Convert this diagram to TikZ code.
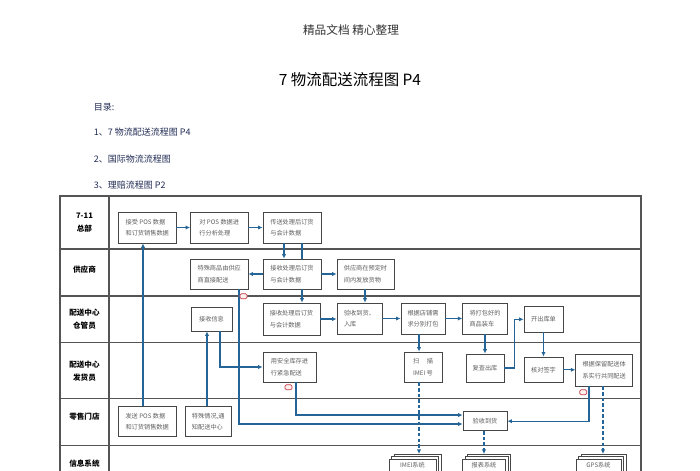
\documentclass[tikz,border=0pt]{standalone}
\usepackage{fontspec}
\setmainfont{Noto Sans CJK SC}
\usetikzlibrary{arrows.meta,shadows}
\definecolor{flow}{RGB}{36,100,150}
\definecolor{boxline}{RGB}{70,70,70}
\definecolor{boxtext}{RGB}{95,95,95}
\definecolor{laneline}{RGB}{85,85,85}
\definecolor{toc}{RGB}{35,45,85}
\definecolor{notered}{RGB}{200,60,70}

\begin{document}
\begin{tikzpicture}[x=0.025cm, y=-0.025cm,
  box/.style={rectangle, draw=boxline, fill=white, line width=0.5pt, inner sep=1pt, align=left, text=boxtext, font=\fontsize{4.4}{8.3}\selectfont},
  boxsize/.style 2 args={minimum width=#1*0.025cm, minimum height=#2*0.025cm},
  docs/.style={box, anchor=north, text height=4pt, text depth=9pt, double copy shadow={shadow xshift=1.8pt, shadow yshift=1.8pt, fill=white, draw=boxline, line width=0.5pt}},
  arrow/.style={-{Latex[length=3.2pt,width=3pt]}, draw=flow, line width=0.9pt},
  dasharrow/.style={arrow, dash pattern=on 2.5pt off 1.5pt},
  flowline/.style={draw=flow, line width=0.9pt},
  lane/.style={draw=laneline, line width=0.8pt},
  lanelabel/.style={font=\fontsize{5.4}{9.2}\selectfont\bfseries, align=center},
  note/.style={rectangle, rounded corners=1pt, draw=notered, fill=red!6, line width=0.5pt, minimum width=5pt, minimum height=3.6pt, inner sep=0pt}
]
  \useasboundingbox[fill=white] (0,0) rectangle (700,470);
  \clip (0,0) rectangle (700,470);

  % Page head
  \node[font=\fontsize{8.3}{10}\selectfont, text=black!80] (header) at (351,30) {精品文档 精心整理};
  \node[font=\fontsize{11}{13}\selectfont] (title) at (350,80) {7 物流配送流程图 P4};
  \node[anchor=west, font=\fontsize{6.4}{8}\selectfont, text=toc] (toc) at (89,107) {目录:};
  \node[anchor=west, font=\fontsize{6.4}{8}\selectfont, text=toc] (toca) at (89,132) {1、7 物流配送流程图 P4};
  \node[anchor=west, font=\fontsize{6.4}{8}\selectfont, text=toc] (tocb) at (89,159) {2、国际物流流程图};
  \node[anchor=west, font=\fontsize{6.4}{8}\selectfont, text=toc] (tocc) at (89,185) {3、理赔流程图 P2};

  % Lanes
  \draw[lane] (60,196) rectangle (641,490);
  \draw[lane] (109,196) -- (109,490);
  \foreach \y in {249,296,342.5,398.5,445.5}
    \draw[lane] (60,\y) -- (641,\y);

  \node[lanelabel] (hq) at (84.5,223) {7-11\\总部};
  \node[lanelabel] (supplier) at (84.5,270) {供应商};
  \node[lanelabel] (keeper) at (84.5,319.5) {配送中心\\仓管员};
  \node[lanelabel] (shipper) at (84.5,371.5) {配送中心\\发货员};
  \node[lanelabel] (store) at (84.5,417) {零售门店};
  \node[lanelabel] (infosys) at (84.5,464) {信息系统};

  % 7-11 总部
  \node[box, boxsize={57.5}{31}] (posdata) at (147.25,227.5) {接受 POS 数据\\和订货销售数据};
  \node[box, boxsize={57.5}{31}] (analyze) at (219.25,227.5) {对 POS 数据进\\行分析处理};
  \node[box, boxsize={58}{31}] (send) at (292,227.5) {传送处理后订货\\与会计数据};

  % 供应商
  \node[box, boxsize={57.5}{30}] (direct) at (219.25,274) {特殊商品由供应\\商直接配送};
  \node[box, boxsize={58}{30}] (recvsup) at (292,274) {接收处理后订货\\与会计数据};
  \node[box, boxsize={57}{30}] (supply) at (365.5,274) {供应商在预定时\\间内发放货物};

  % 配送中心 仓管员
  \node[box, boxsize={41}{24}] (recvinfo) at (211.5,319) {接收信息};
  \node[box, boxsize={57}{32}] (dist2) at (291.5,319) {接收处理后订货\\与会计数据};
  \node[box, boxsize={45}{31}] (inbound) at (359.5,318.5) {验收到货、\\入库};
  \node[box, boxsize={44}{31}] (pack) at (423,318.5) {根据店铺需\\求分别打包};
  \node[box, boxsize={44.6}{31}] (load) at (485,318.5) {将打包好的\\商品装车};
  \node[box, boxsize={39}{25.3}] (issue) at (543.5,319.3) {开出库单};

  % 配送中心 发货员
  \node[box, boxsize={53}{30}] (urgent) at (289.5,367) {用安全库存进\\行紧急配送};
  \node[box, boxsize={38}{30}] (scan) at (423,367) {扫\quad\ 描\\IMEI 号};
  \node[box, boxsize={38}{28}] (recheck) at (485,368) {复查出库};
  \node[box, boxsize={39}{25.7}] (sign) at (543.5,369.8) {核对签字};
  \node[box, boxsize={57}{32}] (joint) at (604.2,370) {根据保留配送体\\系实行共同配送};

  % 零售门店
  \node[box, boxsize={57.7}{30}] (sendpos) at (147.2,421.7) {发送 POS 数据\\和订货销售数据};
  \node[box, boxsize={45.3}{30}] (notify) at (208.3,421.7) {特殊情况,通\\知配送中心};
  \node[box, boxsize={44}{19}] (check) at (485,421.2) {验收到货};

  % 信息系统
  \node[docs, boxsize={47}{24}] (imeisys) at (412.5,459) {IMEI系统};
  \node[docs, boxsize={43}{24}] (report) at (484,459) {报表系统};
  \node[docs, boxsize={45}{24}] (gps) at (598.5,459) {GPS系统};
  \coordinate (imeitop) at ([yshift=3.6pt]imeisys.north);
  \coordinate (reporttop) at ([yshift=3.6pt]report.north);
  \coordinate (gpstop) at ([yshift=3.6pt]gps.north);

  % Head office flow
  \draw[arrow] (posdata) -- (analyze);
  \draw[arrow] (analyze) -- (send);
  \draw[arrow] (send.south -| 284,0) -- (recvsup.north -| 284,0);
  \draw[flowline] (send.south -| 302,0) -- (recvsup.north -| 302,0);
  \draw[arrow] (recvsup.south -| 302,0) -- (dist2.north -| 302,0);

  % Supplier flow
  \draw[arrow] (recvsup) -- (direct);
  \draw[arrow] (recvsup) -- (supply);
  \draw[arrow] (supply.south -| 365,0) -- (inbound.north -| 365,0);

  % Warehouse flow
  \draw[arrow] (dist2.east) -- (dist2.east -| inbound.west);
  \draw[arrow] (inbound) -- (pack);
  \draw[arrow] (pack) -- (load);
  \draw[arrow] (load) -- (recheck);
  \draw[arrow] (pack.south -| 419,0) -- (scan.north -| 419,0);
  \draw[arrow] (recheck.east) -- ++(10,0) |- (issue.west);
  \draw[arrow] (issue) -- (sign);
  \draw[arrow] (sign.east) -- (sign.east -| joint.west);

  % To the store
  \draw[arrow] (joint.south -| 589,0) |- (check.east);
  \draw[arrow] (urgent.south -| 296,0) |- (check.west |- 0,415);
  \draw[arrow] (direct.south -| 239,0) |- (check.west |- 0,424);

  % From the store
  \draw[arrow] (sendpos.north -| 143,0) -- (posdata.south -| 143,0);
  \draw[arrow] (notify.north -| 207,0) -- (recvinfo.south -| 207,0);
  \draw[arrow] (recvinfo.south -| 220,0) |- (urgent.west);

  % Info systems
  \draw[dasharrow] (scan.south -| 419,0) -- (imeitop -| 419,0);
  \draw[dasharrow] (check.south -| 484,0) -- (reporttop -| 484,0);
  \draw[dasharrow] (joint.south -| 603,0) -- (gpstop -| 603,0);

  % Comment marks
  \node[note] (notea) at (243.5,296.2) {};
  \node[note] (noteb) at (288.5,387.2) {};
  \node[note] (notec) at (583.3,392.2) {};
\end{tikzpicture}
\end{document}
